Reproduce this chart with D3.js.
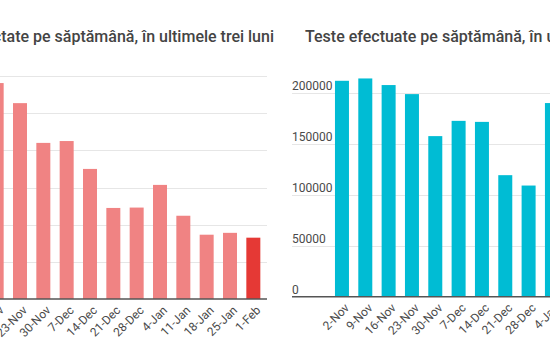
<!DOCTYPE html>
<html>
<head>
<meta charset="utf-8">
<script src="https://cdn.jsdelivr.net/npm/d3@7"></script>
<style>
  html, body { margin: 0; padding: 0; background: #fff; }
  svg { display: block; font-family: Roboto, "Noto Sans", sans-serif; }
</style>
</head>
<body>
<svg id="chart" width="550" height="362"></svg>
<script>
// ---- data ----
const leftTitle = "Persoane infectate pe săptămână, în ultimele trei luni";
const rightTitle = "Teste efectuate pe săptămână, în ultimele trei luni";

const leftWeeks = ["16-Nov", "23-Nov", "30-Nov", "7-Dec", "14-Dec", "21-Dec", "28-Dec",
                   "4-Jan", "11-Jan", "18-Jan", "25-Jan", "1-Feb"];
const leftValues = [58100, 52700, 42000, 42500, 35000, 24500, 24600,
                    30700, 22400, 17300, 17800, 16500];
const leftTicks = [0, 10000, 20000, 30000, 40000, 50000, 60000];

const rightWeeks = ["2-Nov", "9-Nov", "16-Nov", "23-Nov", "30-Nov", "7-Dec", "14-Dec",
                    "21-Dec", "28-Dec", "4-Jan"];
const rightValues = [212300, 214600, 208100, 199200, 157900, 172900, 171900,
                     119500, 109300, 190400];
const rightTicks = [0, 50000, 100000, 150000, 200000];

// ---- drawing ----
const svg = d3.select("#chart");
const textColor = "#4a4a4a";

function drawChart(opt) {
  const g = svg.append("g");
  const x = d3.scaleBand().domain(opt.weeks).range(opt.xRange)
    .paddingInner(0.4).paddingOuter(0.2);
  const y = d3.scaleLinear().domain(opt.yDomain).range(opt.yRange);

  // gridlines
  g.selectAll(".grid").data(opt.ticks.filter(d => d !== 0)).enter().append("line")
    .attr("x1", opt.axisX[0]).attr("x2", opt.axisX[1])
    .attr("y1", d => Math.round(y(d)) + 0.5).attr("y2", d => Math.round(y(d)) + 0.5)
    .attr("stroke", "#e6e6e6").attr("stroke-width", 1);

  // y labels (inside, above gridline)
  if (opt.showYLabels) {
    g.selectAll(".ylab").data(opt.ticks).enter().append("text")
      .attr("x", opt.axisX[0])
      .attr("y", d => y(d) - 3)
      .attr("font-size", 12).attr("fill", textColor)
      .text(d => d);
  }

  // bars
  g.selectAll(".bar").data(opt.weeks.map((w, i) => ({ w, v: opt.values[i], i })))
    .enter().append("rect")
    .attr("x", d => x(d.w)).attr("width", x.bandwidth())
    .attr("y", d => y(d.v)).attr("height", d => y(0) - y(d.v))
    .attr("fill", d => opt.color(d));

  // baseline
  g.append("line")
    .attr("x1", opt.axisX[0]).attr("x2", opt.axisX[1])
    .attr("y1", y(0)).attr("y2", y(0))
    .attr("stroke", "#555").attr("stroke-width", 1.5);

  // x labels rotated
  g.selectAll(".xlab").data(opt.weeks).enter().append("text")
    .attr("transform", d => `translate(${x(d) + x.bandwidth() / 2 + 5},${y(0) + 9}) rotate(-45)`)
    .attr("text-anchor", "end")
    .attr("dy", "0.35em")
    .attr("font-size", 12).attr("fill", textColor)
    .text(d => d);

  // title
  svg.append("text")
    .attr("x", opt.titleX).attr("y", 42)
    .attr("text-anchor", opt.titleAnchor)
    .attr("font-size", 16).attr("font-weight", 500).attr("fill", "#444")
    .text(opt.title);
}

drawChart({
  weeks: leftWeeks, values: leftValues, ticks: leftTicks,
  xRange: [-15, 265], axisX: [-100, 267],
  yDomain: [0, 60000], yRange: [299, 76],
  showYLabels: false,
  color: d => d.i === leftWeeks.length - 1 ? "#e53935" : "#f08383",
  title: leftTitle, titleX: 274, titleAnchor: "end"
});

drawChart({
  weeks: rightWeeks, values: rightValues, ticks: rightTicks,
  xRange: [330.3, 330.3 + 23.33 * 10], axisX: [292, 560],
  yDomain: [0, 200000], yRange: [296.7, 93.3],
  showYLabels: true,
  color: () => "#00bcd4",
  title: rightTitle, titleX: 305, titleAnchor: "start"
});
</script>
</body>
</html>
